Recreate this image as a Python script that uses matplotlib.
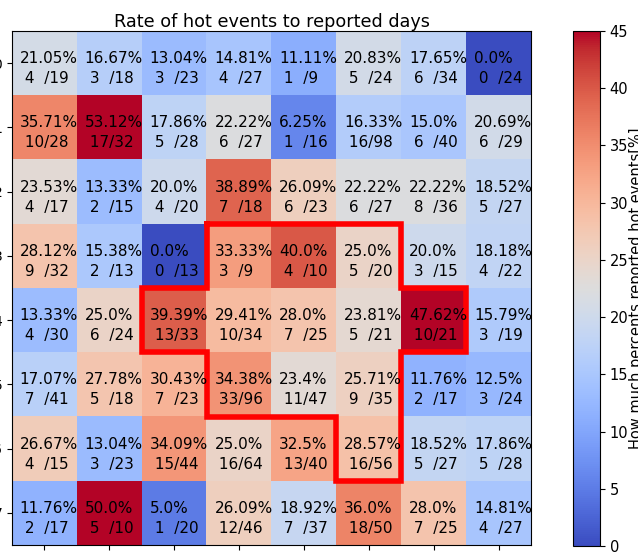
import numpy as np
import matplotlib
matplotlib.use("Agg")
from matplotlib import pyplot as plt

# hot events (numerator) and reported days (denominator), row by row
hot = [
    [4, 3, 3, 4, 1, 5, 6, 0],
    [10, 17, 5, 6, 1, 16, 6, 6],
    [4, 2, 4, 7, 6, 6, 8, 5],
    [9, 2, 0, 3, 4, 5, 3, 4],
    [4, 6, 13, 10, 7, 5, 10, 3],
    [7, 5, 7, 33, 11, 9, 2, 3],
    [4, 3, 15, 16, 13, 16, 5, 5],
    [2, 5, 1, 12, 7, 18, 7, 4],
]
days = [
    [19, 18, 23, 27, 9, 24, 34, 24],
    [28, 32, 28, 27, 16, 98, 40, 29],
    [17, 15, 20, 18, 23, 27, 36, 27],
    [32, 13, 13, 9, 10, 20, 15, 22],
    [30, 24, 33, 34, 25, 21, 21, 19],
    [41, 18, 23, 96, 47, 35, 17, 24],
    [15, 23, 44, 64, 40, 56, 27, 28],
    [17, 10, 20, 46, 37, 50, 25, 27],
]
# outline of the marked region (cell corners, col/row)
region_x = [2.5, 5.5, 5.5, 6.5, 6.5, 5.5, 5.5, 4.5, 4.5, 2.5, 2.5, 1.5, 1.5, 2.5, 2.5]
region_y = [2.5, 2.5, 3.5, 3.5, 4.5, 4.5, 6.5, 6.5, 5.5, 5.5, 4.5, 4.5, 3.5, 3.5, 2.5]

hot = np.array(hot)
days = np.array(days)
rate = np.round(hot / days * 100, 2)


def cell_label(p, n, d):
    num = str(n)
    if n < 10:
        num = num + "  "   # two spaces ~ one digit, keeps the "/" lined up
    return str(p) + "%\n " + num + "/" + str(d)


fig = plt.figure(figsize=(6.38, 5.55), dpi=100)
ax = fig.add_axes([12/638, 1 - 545/555, 519/638, 514/555])
cax = fig.add_axes([573/638, 1 - 546/555, 27/638, 515/555])

im = ax.imshow(rate, cmap="coolwarm", vmin=0, vmax=45, aspect="auto")
for i in range(rate.shape[0]):
    for j in range(rate.shape[1]):
        ax.text(j - 0.38, i + 0.31, cell_label(rate[i, j], hot[i, j], days[i, j]),
                ha="left", va="baseline", color="k", fontsize=11, linespacing=1.42)

ax.plot(region_x, region_y, color="red", linewidth=4, solid_joinstyle="miter")
ax.set_xticks(range(8))
ax.set_yticks(range(8))
ax.set_xlim(-0.5, 7.5)
ax.set_ylim(7.5, -0.5)
ax.set_title("Rate of hot events to reported days", fontsize=12.7, pad=3)

cb = fig.colorbar(im, cax=cax)
cb.ax.tick_params(labelsize=10.5)
cb.set_label("How much percents reported hot events[%]", fontsize=10.5, labelpad=0.5)

fig.savefig("out.png", dpi=100)
